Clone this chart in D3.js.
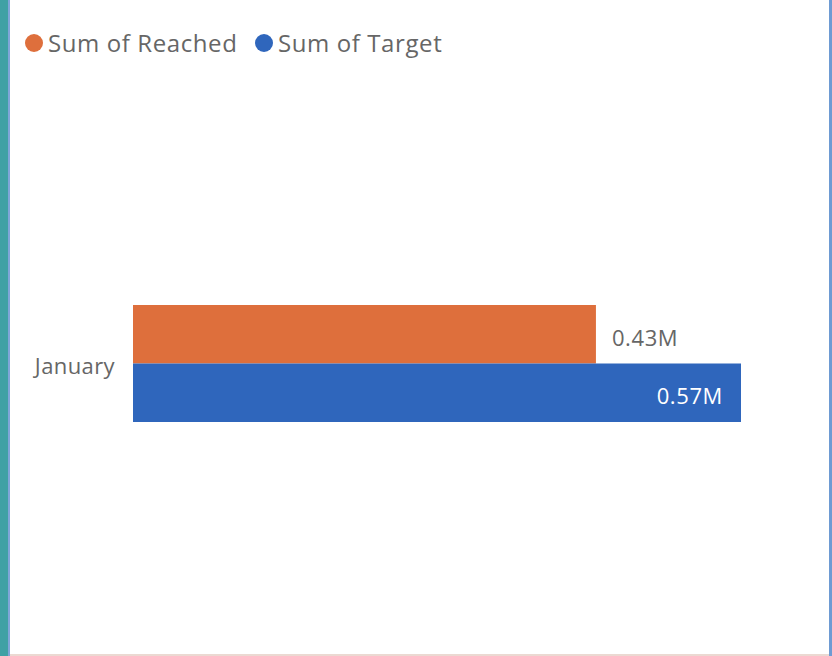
<!DOCTYPE html>
<html>
<head>
<meta charset="utf-8">
<script src="https://cdn.jsdelivr.net/npm/d3@7"></script>
<style>
  html, body { margin: 0; padding: 0; background: #fff; }
  svg { display: block; font-family: "Open Sans", "Noto Sans", sans-serif; }
</style>
</head>
<body>
<svg width="832" height="656"></svg>
<script>
// chart values
const categories = ["January"];
const seriesNames = ["Sum of Reached", "Sum of Target"];
const reached = [434000];
const target = [570000];
const colors = ["#DE6F3C", "#2F66BC"];

const svg = d3.select('svg');

// frame: teal strip on the left, thin blue borders
svg.append('rect').attr('x', 0).attr('y', 0).attr('width', 8).attr('height', 656).style('fill', '#3FA1A4');
svg.append('rect').attr('x', 8).attr('y', 0).attr('width', 2).attr('height', 656).style('fill', '#7FA6D8');
svg.append('rect').attr('x', 829).attr('y', 0).attr('width', 3).attr('height', 656).style('fill', '#6E9BD3');
svg.append('rect').attr('x', 10).attr('y', 654).attr('width', 819).attr('height', 2).style('fill', '#EBD9D2');

const rows = categories.map((c, i) => ({ cat: c, values: [reached[i], target[i]] }));

const xScale = d3.scaleLinear()
  .domain([0, d3.max(target)])
  .range([133, 741]);

const yScale = d3.scaleBand()
  .domain(categories)
  .range([305, 422]);

const inner = d3.scaleBand()
  .domain(d3.range(seriesNames.length))
  .range([0, yScale.bandwidth()]);

const fmt = v => d3.format('.2f')(v / 1e6) + 'M';

// category axis (no line, no ticks)
const yAxis = d3.axisLeft(yScale).tickSize(0).tickPadding(18);
const yg = svg.append('g').attr('transform', 'translate(133,3)').call(yAxis);
yg.select('.domain').remove();
yg.selectAll('text')
  .style('font-size', '22px')
  .style('letter-spacing', '0.4px')
  .style('fill', '#666666')
  .style('font-family', '"Open Sans", sans-serif');

// bars
const groups = svg.selectAll('.cat').data(rows).enter()
  .append('g').attr('class', 'cat')
  .attr('transform', d => `translate(0, ${yScale(d.cat)})`);

groups.selectAll('rect').data(d => d.values).enter()
  .append('rect')
  .attr('x', xScale(0))
  .attr('y', (d, i) => inner(i))
  .attr('width', d => xScale(d) - xScale(0))
  .attr('height', inner.bandwidth())
  .style('fill', (d, i) => colors[i]);

// data labels: reached outside, target inside (white)
groups.selectAll('text.lbl').data(d => d.values).enter()
  .append('text')
  .attr('class', 'lbl')
  .attr('x', (d, i) => i === 0 ? xScale(d) + 16 : xScale(d) - 18)
  .attr('y', (d, i) => inner(i) + inner.bandwidth() / 2 + 4)
  .attr('dy', '0.35em')
  .attr('text-anchor', (d, i) => i === 0 ? 'start' : 'end')
  .style('font-size', '22px')
  .style('letter-spacing', '0.6px')
  .style('fill', (d, i) => i === 0 ? '#666666' : '#ffffff')
  .text(d => fmt(d));

// legend
const legendX = [34, 264];
const legend = svg.append('g').attr('id', 'legend');
seriesNames.forEach((name, i) => {
  legend.append('circle')
    .attr('cx', legendX[i])
    .attr('cy', 43)
    .attr('r', 9)
    .style('fill', colors[i]);
  legend.append('text')
    .attr('x', legendX[i] + 14)
    .attr('y', 44)
    .attr('dy', '0.35em')
    .style('font-size', '24px')
    .style('letter-spacing', '0.6px')
    .style('fill', '#666666')
    .text(name);
});
</script>
</body>
</html>
